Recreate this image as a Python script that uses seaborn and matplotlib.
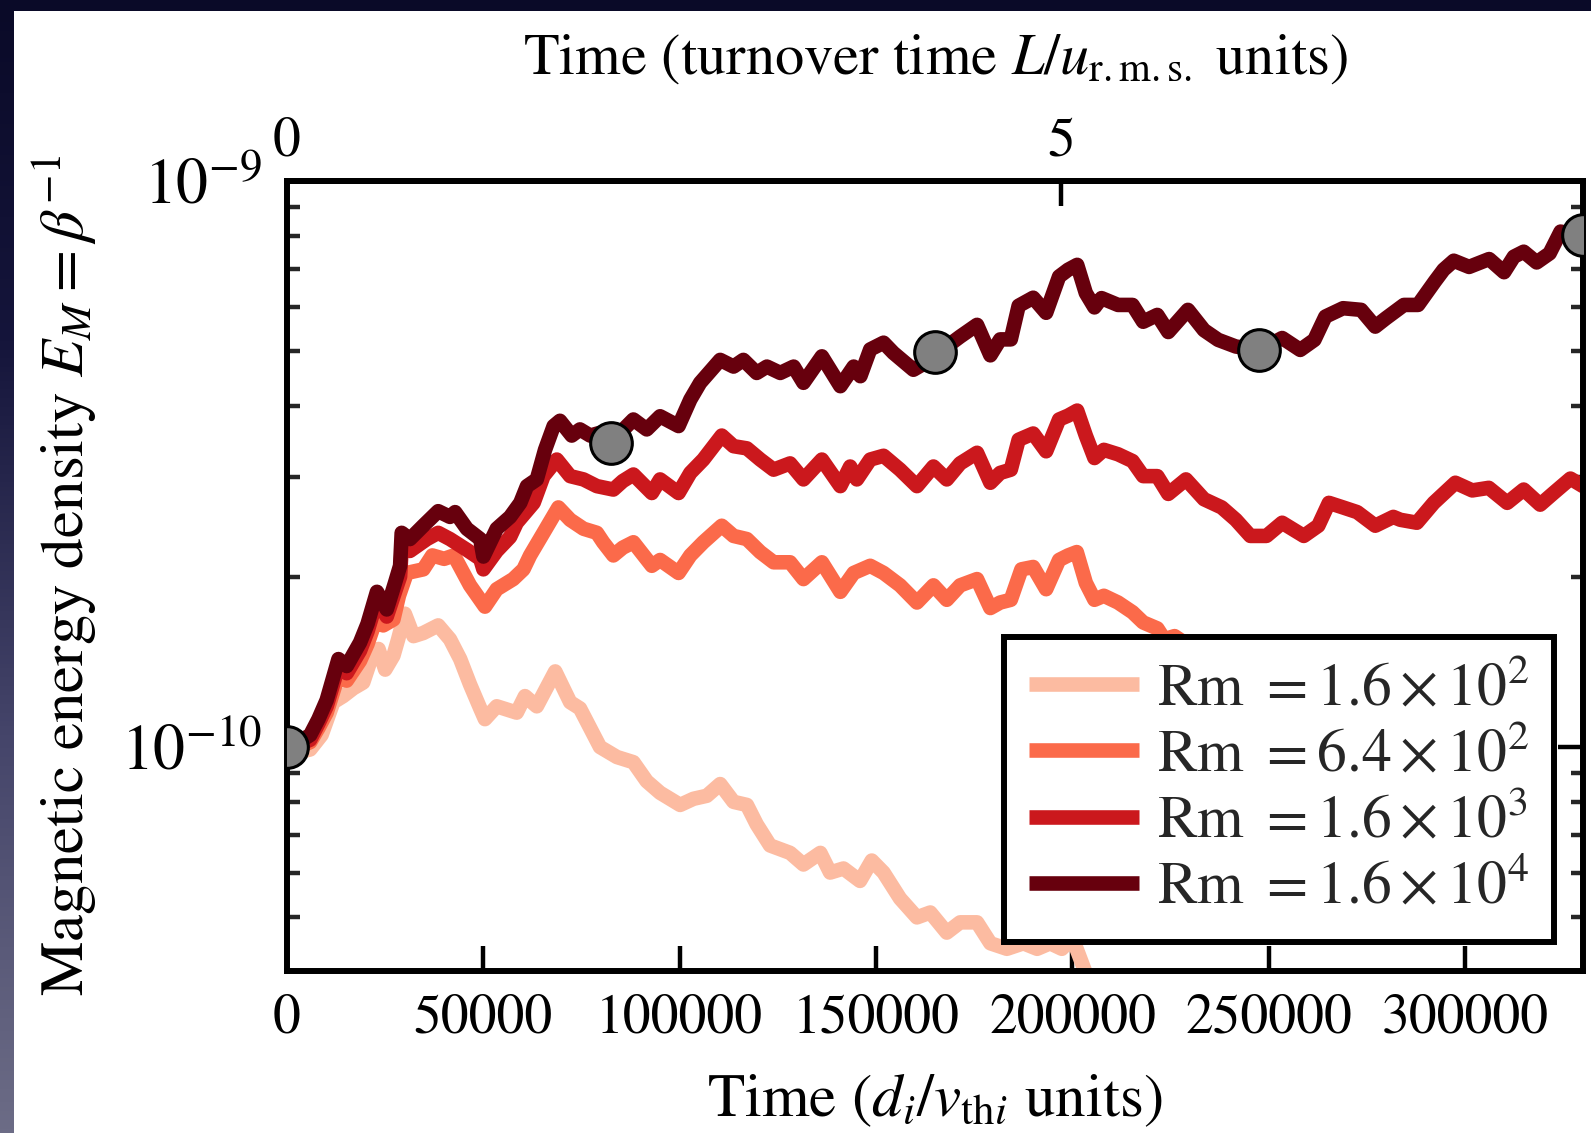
import numpy as np
import pandas as pd
import matplotlib
matplotlib.use("Agg")
import matplotlib.pyplot as plt
import seaborn as sns
from matplotlib.patches import Rectangle
from matplotlib.lines import Line2D
from matplotlib.colors import LinearSegmentedColormap
from matplotlib.ticker import LogLocator, NullFormatter, NullLocator

# ---------------- data (time in 1000 d_i/v_thi, energy in 1e-10) ----------------
t_rm16e4 = [0, 3, 5.9, 8, 10.1, 13.1, 15.2, 18.6, 20.5, 22.9, 25.4, 27.5, 28.8, 29.2, 31.3, 34.7,
            38.5, 41.5, 42.8, 45.8, 49.2, 50.0, 53.4, 56.8, 59.4, 61.1, 63.6, 65.7, 67.9, 69.5,
            72.5, 74.6, 77.2, 79.7, 82.3, 85.0, 88.2, 91.6, 95.0, 99.7, 102.7, 105.2, 110.3,
            113.7, 116.2, 119.6, 122.2, 125.6, 129.0, 131.5, 136.2, 140.9, 144.3, 146.0, 148.5,
            151.9, 154.4, 159.5, 162.0, 164.9, 168.0, 171.4, 175.7, 179.1, 181.6, 184.3, 186.3,
            190.0, 193.3, 196.6, 198.9, 201.2, 203.4, 205.6, 207.4, 211.6, 215.3, 218.0, 221.6,
            224.4, 229.4, 233.5, 237.1, 241.6, 247.5, 250.5, 253.4, 258.0, 261.6, 264.4, 268.9,
            273.5, 277.1, 279.8, 284.4, 288.0, 292.3, 294.5, 297.1, 301.0, 306.1, 309.9, 312.4,
            314.9, 318.2, 321.5, 324.3, 327.0, 330.0]
E_rm16e4 = [1.00, 1.02, 1.05, 1.12, 1.21, 1.43, 1.39, 1.53, 1.65, 1.88, 1.75, 1.95, 2.09, 2.39, 2.33, 2.46,
            2.61, 2.55, 2.60, 2.43, 2.33, 2.17, 2.43, 2.55, 2.70, 2.89, 2.97, 3.35, 3.69, 3.77,
            3.55, 3.64, 3.55, 3.59, 3.44, 3.60, 3.79, 3.64, 3.84, 3.69, 4.11, 4.40, 4.83,
            4.70, 4.83, 4.58, 4.70, 4.58, 4.70, 4.40, 4.90, 4.34, 4.70, 4.52, 5.04,
            5.18, 4.97, 4.64, 4.75, 4.98, 5.10, 5.31, 5.57, 4.92, 5.25, 5.25, 6.02,
            6.22, 5.85, 6.78, 6.97, 7.11, 6.34, 5.98, 6.21, 6.04, 6.04, 5.64, 5.80,
            5.41, 5.92, 5.45, 5.24, 5.10, 5.03, 5.15, 5.28, 5.03, 5.24, 5.76, 5.96,
            5.92, 5.53, 5.72, 6.04, 6.04, 6.65, 6.97, 7.23, 7.05, 7.28, 6.90, 7.35,
            7.50, 7.18, 7.45, 8.14, 8.05, 8.03]

t_rm16e3 = [0, 3, 5.9, 8, 10.1, 13.1, 15.2, 18.6, 20.5, 22.9, 25.4, 27.5, 28.8, 29.2, 31.3, 35.6,
            38.5, 41.5, 45.8, 49.2, 50.0, 53.4, 56.8, 58.5, 62.8, 65.3, 68.7, 72.1, 75.5, 78.9,
            83.1, 85.5, 88.2, 92.9, 95.0, 99.7, 102.7, 106.0, 110.7, 113.7, 117.1, 120.5, 123.9,
            128.1, 131.5, 136.2, 140.9, 143.4, 145.1, 148.5, 151.9, 156.1, 160.4, 164.6, 168.0,
            171.4, 175.7, 179.1, 181.6, 184.3, 186.3, 190.0, 193.3, 196.6, 198.9, 201.2, 203.4,
            205.6, 208.0, 211.6, 215.3, 218.0, 221.6, 224.4, 228.9, 233.5, 238.0, 241.6, 245.3,
            249.4, 253.4, 258.9, 262.6, 265.3, 268.9, 272.5, 277.1, 281.7, 283.5, 287.7, 292.0,
            297.5, 301.8, 306.0, 310.7, 314.9, 319.1, 322.5, 326.8, 330.0]
E_rm16e3 = [1.00, 1.01, 1.03, 1.10, 1.18, 1.39, 1.35, 1.48, 1.60, 1.82, 1.70, 1.88, 2.00, 2.25, 2.22, 2.33,
            2.39, 2.33, 2.23, 2.15, 2.06, 2.22, 2.35, 2.49, 2.70, 3.01, 3.22, 3.01, 2.97, 2.89,
            2.85, 2.95, 3.03, 2.81, 2.97, 2.81, 3.05, 3.22, 3.55, 3.40, 3.37, 3.22, 3.09,
            3.17, 2.97, 3.22, 2.89, 3.13, 2.97, 3.22, 3.27, 3.09, 2.89, 3.13, 2.97,
            3.17, 3.31, 2.93, 3.05, 3.09, 3.49, 3.58, 3.33, 3.79, 3.85, 3.93, 3.55,
            3.24, 3.35, 3.29, 3.20, 3.01, 3.01, 2.80, 2.97, 2.74, 2.65, 2.52, 2.36,
            2.36, 2.49, 2.36, 2.46, 2.70, 2.65, 2.60, 2.46, 2.55, 2.52, 2.49, 2.70,
            2.93, 2.84, 2.87, 2.70, 2.85, 2.68, 2.81, 2.98, 2.89]

t_rm64e2 = [0, 3, 5.9, 8, 10.1, 13.1, 15.2, 18.6, 20.5, 22.9, 24.5, 27.1, 28.5, 30.5, 34.7, 37.0,
            40.0, 42.5, 46.6, 50.4, 53.4, 57.6, 60.2, 61.9, 65.3, 69.1, 72.1, 75.5, 78.9, 80.5,
            83.1, 85.5, 88.2, 92.9, 95.0, 99.7, 102.7, 106.0, 110.7, 113.7, 117.1, 120.5, 123.9,
            128.1, 131.5, 136.2, 140.9, 144.3, 148.5, 151.9, 156.1, 160.4, 164.6, 168.0, 171.4,
            175.7, 179.1, 181.6, 184.3, 187.0, 190.0, 193.3, 196.6, 198.9, 201.1, 203.4, 205.6,
            208.0, 211.6, 215.3, 218.0, 221.6, 223.4, 226.0, 229.0, 232.0, 235.0]
E_rm64e2 = [1.00, 1.00, 1.02, 1.08, 1.15, 1.34, 1.31, 1.42, 1.52, 1.70, 1.64, 1.68, 1.85, 2.03, 2.06, 2.18,
            2.15, 2.18, 1.93, 1.77, 1.90, 1.98, 2.06, 2.18, 2.39, 2.65, 2.52, 2.43, 2.39, 2.30,
            2.18, 2.25, 2.30, 2.09, 2.14, 2.03, 2.18, 2.30, 2.46, 2.36, 2.33, 2.21, 2.12,
            2.12, 1.98, 2.12, 1.88, 2.03, 2.09, 2.03, 1.93, 1.80, 1.93, 1.82, 1.93,
            1.98, 1.76, 1.80, 1.82, 2.06, 2.08, 1.90, 2.14, 2.18, 2.21, 1.95, 1.82,
            1.85, 1.80, 1.73, 1.66, 1.62, 1.55, 1.57, 1.52, 1.48, 1.45]

t_rm16e2 = [0, 3, 5.9, 8.8, 11.8, 14.3, 16.9, 19.4, 21.1, 23.3, 25.0, 27.1, 28.3, 30.0, 32.2, 34.7,
            38.5, 41.5, 44.1, 46.6, 49.2, 50.4, 53.4, 58.5, 60.6, 63.6, 68.3, 72.1, 74.6, 77.2,
            79.7, 84.0, 88.2, 91.6, 95.0, 100.1, 103.5, 106.9, 110.3, 113.7, 117.1, 119.6, 123.0,
            128.1, 131.5, 135.8, 138.3, 141.7, 145.9, 148.9, 151.9, 156.1, 160.4, 163.8, 168.0,
            171.4, 175.7, 179.1, 183.3, 187.5, 191.0, 194.3, 197.3, 200.0, 203.3, 206.5]
E_rm16e2 = [0.99, 0.98, 0.99, 1.05, 1.20, 1.23, 1.27, 1.30, 1.41, 1.49, 1.37, 1.45, 1.55, 1.72, 1.57, 1.59,
            1.64, 1.55, 1.43, 1.29, 1.17, 1.12, 1.18, 1.15, 1.23, 1.18, 1.36, 1.20, 1.17, 1.08,
            1.00, 0.96, 0.94, 0.87, 0.83, 0.79, 0.81, 0.82, 0.86, 0.80, 0.79, 0.73, 0.67,
            0.65, 0.62, 0.65, 0.60, 0.61, 0.58, 0.63, 0.60, 0.54, 0.50, 0.51, 0.47,
            0.49, 0.49, 0.45, 0.44, 0.45, 0.44, 0.45, 0.44, 0.46, 0.40, 0.33]

marker_t = [0, 82.5, 165.0, 247.5, 330.0]
marker_E = [1.00, 3.44, 4.98, 5.03, 8.03]

series_labels = [r"Rm $=1.6\times10^{2}$", r"Rm $=6.4\times10^{2}$",
                 r"Rm $=1.6\times10^{3}$", r"Rm $=1.6\times10^{4}$"]
series_colors = ["#fcbba1", "#fb6a4a", "#cb181d", "#67000d"]

xticks = [0, 50000, 100000, 150000, 200000, 250000, 300000]
xtick_labels = ["0", "50000", "100000", "150000", "200000", "250000", "300000"]
top_ticks = [0, 5]
TURNOVER = 39430.0  # d_i/v_thi per turnover time

# ---------------- build frame ----------------
frames = []
for lab, tt, ee in zip(series_labels,
                       [t_rm16e2, t_rm64e2, t_rm16e3, t_rm16e4],
                       [E_rm16e2, E_rm64e2, E_rm16e3, E_rm16e4]):
    frames.append(pd.DataFrame({"t": np.array(tt) * 1000.0,
                                "E": np.array(ee) * 1e-10,
                                "Rm": lab}))
df = pd.concat(frames, ignore_index=True)
mk = pd.DataFrame({"t": np.array(marker_t) * 1000.0, "E": np.array(marker_E) * 1e-10})

# ---------------- style ----------------
sns.set_theme(style="ticks")
plt.rcParams["font.family"] = ["STIXGeneral", "DejaVu Serif"]
plt.rcParams["mathtext.fontset"] = "stix"
plt.rcParams["axes.unicode_minus"] = True

W, H = 1591, 1133
fig = plt.figure(figsize=(W / 100, H / 100), dpi=100)

# background: dark gradient with white page
bg = fig.add_axes([0, 0, 1, 1], zorder=-10)
cmap = LinearSegmentedColormap.from_list(
    "bgc", [(0.0, "#0a0a28"), (0.3, "#15153b"), (0.65, "#45456a"), (1.0, "#6c6c86")])
grad = np.linspace(0, 1, 256).reshape(-1, 1)
bg.imshow(grad, aspect="auto", cmap=cmap, extent=[0, 1, 0, 1], origin="upper")
bg.add_patch(Rectangle((14 / W, 0), 1, (H - 11) / H, transform=bg.transAxes,
                       facecolor="white", edgecolor="none", zorder=3))
bg.set_xlim(0, 1); bg.set_ylim(0, 1)
bg.axis("off")

ax = fig.add_axes([287 / W, 1 - 971 / H, (1583 - 287) / W, (971 - 181) / H])
ax.set_facecolor("white")

LW = 10.5
sns.lineplot(data=df, x="t", y="E", hue="Rm", hue_order=series_labels,
             palette=series_colors, linewidth=LW, sort=False, estimator=None,
             legend=False, ax=ax, solid_capstyle="round", solid_joinstyle="round")
sns.scatterplot(data=mk, x="t", y="E", s=900, color="#808080", edgecolor="black",
                linewidth=2.2, zorder=5, ax=ax, legend=False)

ax.set_yscale("log")
ax.set_xlim(0, 330000)
ax.set_ylim(4.02e-11, 1e-9)
ax.set_xticks(xticks)
ax.set_xticklabels(xtick_labels)
ax.xaxis.set_minor_locator(NullLocator())
ax.yaxis.set_major_locator(LogLocator(base=10))
ax.yaxis.set_minor_locator(LogLocator(base=10, subs=np.arange(2, 10)))
ax.yaxis.set_minor_formatter(NullFormatter())

for s in ax.spines.values():
    s.set_linewidth(4.3)
    s.set_color("black")
    s.set_visible(True)

ax.tick_params(axis="x", which="major", direction="in", length=18, width=3.2,
               top=False, bottom=True, labelsize=40, pad=16, colors="black")
ax.tick_params(axis="y", which="major", direction="in", length=18, width=3.2,
               left=True, right=True, labelsize=46, pad=18, colors="black")
ax.tick_params(axis="y", which="minor", direction="in", length=9, width=3.2,
               left=True, right=True)

ax.set_xlabel(r"Time ($d_i/v_{{\rm th}i}$ units)", fontsize=44, labelpad=20, color="black")
ax.set_ylabel(r"Magnetic energy density $E_M = \beta^{-1}$", fontsize=44, labelpad=16,
              color="black")

sec = ax.secondary_xaxis("top", functions=(lambda x: x / TURNOVER, lambda x: x * TURNOVER))
sec.set_xticks(top_ticks)
sec.set_xticklabels([str(v) for v in top_ticks])
sec.xaxis.set_minor_locator(NullLocator())
sec.tick_params(axis="x", which="major", direction="in", length=18, width=3.2,
                labelsize=40, pad=10, colors="black")
sec.spines["top"].set_linewidth(4.3)
sec.set_xlabel(r"Time (turnover time $L/u_{\rm r.m.s.}$ units)", fontsize=42, labelpad=31,
               color="black")

handles = [Line2D([0], [0], color=c, linewidth=LW, solid_capstyle="butt") for c in series_colors]
leg = ax.legend(handles, series_labels, loc="lower right", bbox_to_anchor=(0.978, 0.037),
                fontsize=43, frameon=True, fancybox=False, framealpha=1, edgecolor="black",
                handlelength=1.85, handletextpad=0.3, borderpad=0.42, labelspacing=0.17,
                borderaxespad=0)
leg.get_frame().set_linewidth(4.3)
leg.set_zorder(10)

fig.savefig("out.png", dpi=100, facecolor=fig.get_facecolor())
